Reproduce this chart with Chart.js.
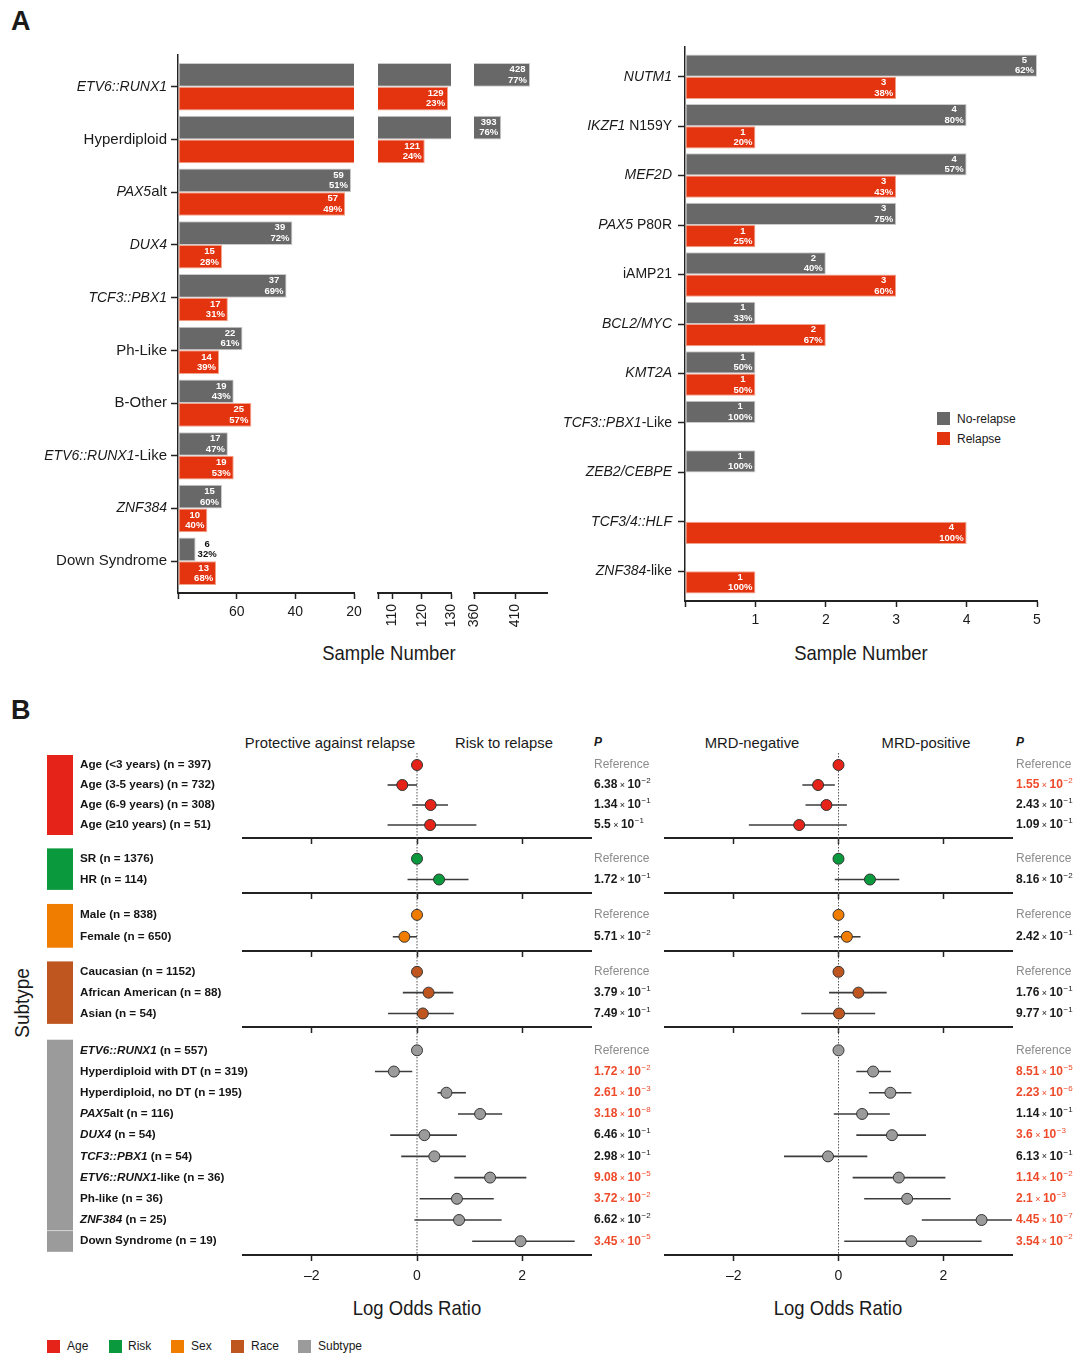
<!DOCTYPE html>
<html><head><meta charset="utf-8">
<script src="https://cdn.jsdelivr.net/npm/chart.js@4.4.1/dist/chart.umd.min.js"></script>
<style>
html,body{margin:0;padding:0;background:#fff;}
#page{position:relative;width:1080px;height:1357px;overflow:hidden;font-family:'Liberation Sans',Arial,sans-serif;color:#1a1a1a;}
.abs{position:absolute;white-space:nowrap;}
.c{transform:translate(-50%,-50%);}
.l{transform:translate(0,-50%);}
.ttl{font-size:21px;transform:translate(-50%,-50%) scaleX(0.88);}
.hd{font-size:14.8px;}
.sq{position:absolute;width:13px;height:13px;}
</style></head>
<body><div id="page">
<div class="abs" style="left:11px;top:6px;font:bold 27px 'Liberation Sans',Arial,sans-serif;">A</div>
<div class="abs" style="left:11px;top:695px;font:bold 27px 'Liberation Sans',Arial,sans-serif;">B</div>
<div class="abs ttl" style="left:389px;top:653px;">Sample Number</div>
<div class="abs ttl" style="left:861px;top:653px;">Sample Number</div>
<div class="sq" style="left:937px;top:412px;background:#686868;"></div>
<div class="abs l" style="left:957px;top:419px;font-size:12px;">No-relapse</div>
<div class="sq" style="left:937px;top:432px;background:#e3330f;"></div>
<div class="abs l" style="left:957px;top:439px;font-size:12px;">Relapse</div>

<div class="abs c hd" style="left:330px;top:743px;">Protective against relapse</div>
<div class="abs c hd" style="left:504px;top:743px;">Risk to relapse</div>
<div class="abs l" style="left:594px;top:742px;font:italic bold 12px 'Liberation Sans',Arial,sans-serif;">P</div>
<div class="abs c hd" style="left:752px;top:743px;">MRD-negative</div>
<div class="abs c hd" style="left:926px;top:743px;">MRD-positive</div>
<div class="abs l" style="left:1016px;top:742px;font:italic bold 12px 'Liberation Sans',Arial,sans-serif;">P</div>
<div class="abs" style="left:22px;top:1003px;font-size:21px;transform:translate(-50%,-50%) rotate(-90deg) scaleX(0.9);">Subtype</div>
<div class="abs ttl" style="left:417px;top:1308px;">Log Odds Ratio</div>
<div class="abs ttl" style="left:838px;top:1308px;">Log Odds Ratio</div>

<div class="sq" style="left:47px;top:1340px;background:#e52318;"></div>
<div class="abs l" style="left:67px;top:1346px;font-size:12px;">Age</div>
<div class="sq" style="left:109px;top:1340px;background:#0a9a3d;"></div>
<div class="abs l" style="left:128px;top:1346px;font-size:12px;">Risk</div>
<div class="sq" style="left:171px;top:1340px;background:#f07d00;"></div>
<div class="abs l" style="left:191px;top:1346px;font-size:12px;">Sex</div>
<div class="sq" style="left:231px;top:1340px;background:#bf5620;"></div>
<div class="abs l" style="left:251px;top:1346px;font-size:12px;">Race</div>
<div class="sq" style="left:298px;top:1340px;background:#9b9b9b;"></div>
<div class="abs l" style="left:318px;top:1346px;font-size:12px;">Subtype</div>
</div>
<script>
// ---------------- Panel A (left): main subtypes ----------------
const subtypesA = ['<i>ETV6::RUNX1</i>', 'Hyperdiploid', '<i>PAX5</i>alt', '<i>DUX4</i>', '<i>TCF3::PBX1</i>', 'Ph-Like', 'B-Other', '<i>ETV6::RUNX1</i>-Like', '<i>ZNF384</i>', 'Down Syndrome'];
const noRelapseA = [428, 393, 59, 39, 37, 22, 19, 17, 15, 6];
const relapseA = [129, 121, 57, 15, 17, 14, 25, 19, 10, 13];
const noRelapsePctA = ['77%', '76%', '51%', '72%', '69%', '61%', '43%', '47%', '60%', '32%'];
const relapsePctA = ['23%', '24%', '49%', '28%', '31%', '39%', '57%', '53%', '40%', '68%'];
// broken axis segments
const seg1Ticks = [0, 20, 40, 60];
const seg1TickLabels = ['', '60', '40', '20'];
const seg2Ticks = [105, 110, 120, 130];
const seg2TickLabels = ['', '110', '120', '130'];
const seg3Ticks = [360, 410];
const seg3TickLabels = ['360', '410'];

// ---------------- Panel A (right): rare subtypes ----------------
const subtypesB = ['<i>NUTM1</i>', '<i>IKZF1</i> N159Y', '<i>MEF2D</i>', '<i>PAX5</i> P80R', 'iAMP21', '<i>BCL2/MYC</i>', '<i>KMT2A</i>', '<i>TCF3::PBX1</i>-Like', '<i>ZEB2/CEBPE</i>', '<i>TCF3/4::HLF</i>', '<i>ZNF384</i>-like'];
const noRelapseB = [5, 4, 4, 3, 2, 1, 1, 1, 1, null, null];
const relapseB = [3, 1, 3, 1, 3, 2, 1, null, null, 4, 1];
const noRelapsePctB = ['62%', '80%', '57%', '75%', '40%', '33%', '50%', '100%', '100%', null, null];
const relapsePctB = ['38%', '20%', '43%', '25%', '60%', '67%', '50%', null, null, '100%', '100%'];
const rightTicks = [0, 1, 2, 3, 4, 5];
const rightTickLabels = ['', '1', '2', '3', '4', '5'];

// ---------------- Panel B: forest plots ----------------
const forestGroups = ['Age', 'Risk', 'Sex', 'Race', 'Subtype'];
const rowGroup = ['Age','Age','Age','Age','Risk','Risk','Sex','Sex','Race','Race','Race',
  'Subtype','Subtype','Subtype','Subtype','Subtype','Subtype','Subtype','Subtype','Subtype','Subtype'];
const rowLabels = ['Age (<3 years) (n = 397)', 'Age (3-5 years) (n = 732)', 'Age (6-9 years) (n = 308)', 'Age (\u226510 years) (n = 51)',
  'SR (n = 1376)', 'HR (n = 114)', 'Male (n = 838)', 'Female (n = 650)',
  'Caucasian (n = 1152)', 'African American (n = 88)', 'Asian (n = 54)',
  '<i>ETV6::RUNX1</i> (n = 557)', 'Hyperdiploid with DT (n = 319)', 'Hyperdiploid, no DT (n = 195)', '<i>PAX5</i>alt (n = 116)',
  '<i>DUX4</i> (n = 54)', '<i>TCF3::PBX1</i> (n = 54)', '<i>ETV6::RUNX1</i>-like (n = 36)', 'Ph-like (n = 36)', '<i>ZNF384</i> (n = 25)', 'Down Syndrome (n = 19)'];
const relapseLogOR = [0, -0.28, 0.26, 0.25, 0, 0.42, 0, -0.24, 0, 0.22, 0.11,
  0, -0.44, 0.56, 1.20, 0.14, 0.33, 1.39, 0.76, 0.80, 1.97];
const relapseLow = [null, -0.56, -0.09, -0.56, null, -0.18, null, -0.46, null, -0.27, -0.55,
  null, -0.80, 0.39, 0.78, -0.51, -0.30, 0.71, 0.05, -0.05, 1.05];
const relapseHigh = [null, 0.0, 0.59, 1.13, null, 0.98, null, 0.0, null, 0.69, 0.70,
  null, -0.09, 0.93, 1.62, 0.76, 0.93, 2.08, 1.46, 1.61, 3.0];
const relapseP = ['Reference', '6.38e-2', '1.34e-1', '5.5e-1', 'Reference', '1.72e-1', 'Reference', '5.71e-2', 'Reference', '3.79e-1', '7.49e-1',
  'Reference', '1.72e-2', '2.61e-3', '3.18e-8', '6.46e-1', '2.98e-1', '9.08e-5', '3.72e-2', '6.62e-2', '3.45e-5'];
const mrdLogOR = [0, -0.39, -0.23, -0.75, 0, 0.60, 0, 0.16, 0, 0.38, 0.01,
  0, 0.66, 0.99, 0.45, 1.02, -0.20, 1.15, 1.31, 2.73, 1.39];
const mrdLow = [null, -0.69, -0.63, -1.71, null, -0.07, null, -0.09, null, -0.18, -0.71,
  null, 0.34, 0.58, -0.09, 0.34, -1.04, 0.27, 0.49, 1.59, 0.11];
const mrdHigh = [null, -0.07, 0.16, 0.16, null, 1.16, null, 0.42, null, 0.92, 0.70,
  null, 1.0, 1.39, 0.98, 1.67, 0.55, 2.04, 2.14, 3.4, 2.73];
const mrdP = ['Reference', '1.55e-2', '2.43e-1', '1.09e-1', 'Reference', '8.16e-2', 'Reference', '2.42e-1', 'Reference', '1.76e-1', '9.77e-1',
  'Reference', '8.51e-5', '2.23e-6', '1.14e-1', '3.6e-3', '6.13e-1', '1.14e-2', '2.1e-3', '4.45e-7', '3.54e-2'];
const forestTicks = [-2, 0, 2];
const forestTickLabels = ['\u20132', '0', '2'];

// ---------------- styles / layout ----------------
const SANS = "'Liberation Sans',Arial,sans-serif";
const GRAY = '#686868', RED = '#e3330f';
const groupColors = ['#e52318', '#0a9a3d', '#f07d00', '#bf5620', '#9b9b9b'];
Chart.defaults.font.family = SANS;

function makeCanvas(left, top, w, h) {
  const c = document.createElement('canvas');
  c.width = w; c.height = h;
  c.style.cssText = `position:absolute;left:${left}px;top:${top}px;width:${w}px;height:${h}px;`;
  document.getElementById('page').appendChild(c);
  return c;
}

function parseRich(markup) {
  const parts = []; const re = /<i>(.*?)<\/i>/g; let last = 0, m;
  while ((m = re.exec(markup))) {
    if (m.index > last) parts.push({ t: markup.slice(last, m.index), i: false });
    parts.push({ t: m[1], i: true }); last = re.lastIndex;
  }
  if (last < markup.length) parts.push({ t: markup.slice(last), i: false });
  return parts;
}
// sizes: [regular size, italic size]
function drawRich(ctx, markup, x, y, align, sizes, weight, color) {
  const parts = parseRich(markup);
  const fontOf = it => `${it ? 'italic ' : ''}${weight} ${it ? sizes[1] : sizes[0]}px ${SANS}`;
  let total = 0;
  parts.forEach(p => { ctx.font = fontOf(p.i); p.w = ctx.measureText(p.t).width; total += p.w; });
  let cx = align === 'right' ? x - total : (align === 'center' ? x - total / 2 : x);
  ctx.fillStyle = color; ctx.textBaseline = 'middle'; ctx.textAlign = 'left';
  parts.forEach(p => { ctx.font = fontOf(p.i); ctx.fillText(p.t, cx, y); cx += p.w; });
}

function barLabelPlugin(pcts) {
  return {
    id: 'barLabels',
    afterDatasetsDraw(chart) {
      const { ctx, chartArea: a } = chart; const xs = chart.scales.x;
      ctx.save();
      chart.data.datasets.forEach((ds, di) => {
        const meta = chart.getDatasetMeta(di);
        meta.data.forEach((el, i) => {
          const v = ds.data[i].x;
          if (v == null || v < xs.min || v > xs.max) return;
          const lines = [String(v), pcts[di][i]];
          ctx.font = `bold 9.5px ${SANS}`;
          const w = Math.max(...lines.map(t => ctx.measureText(t).width));
          const vis = el.x - Math.max(el.base, a.left);
          let cx, col;
          if (vis >= w + 6) { cx = el.x - 3 - w / 2; col = '#ffffff'; }
          else { cx = el.x + 2 + w / 2; col = '#111111'; }
          ctx.fillStyle = col; ctx.textAlign = 'center'; ctx.textBaseline = 'middle';
          ctx.fillText(lines[0], cx, el.y - 5.3);
          ctx.fillText(lines[1], cx, el.y + 5.3);
        });
      });
      ctx.restore();
    }
  };
}
function catLabelPlugin(cats, offset, sizes) {
  return {
    id: 'catLabels',
    afterDraw(chart) {
      const ys = chart.scales.y; const a = chart.chartArea; const ctx = chart.ctx;
      ctx.save();
      cats.forEach((c, i) => drawRich(ctx, c, a.left - offset, ys.getPixelForValue(i), 'right', sizes, 'normal', '#1a1a1a'));
      ctx.restore();
    }
  };
}

function buildBarChart(cfg) {
  const n = cfg.cats.length;
  const mkData = vals => vals.map((v, i) => ({ x: v, y: i }));
  const plugins = [barLabelPlugin([cfg.noPct, cfg.rePct])];
  if (cfg.showY) plugins.push(catLabelPlugin(cfg.cats, cfg.labelOffset, cfg.labelSizes));
  return new Chart(cfg.canvas, {
    type: 'bar',
    data: {
      datasets: [
        { label: 'No-relapse', data: mkData(cfg.noVals), backgroundColor: GRAY, borderColor: '#cbcbcb', borderWidth: 1, borderSkipped: false, categoryPercentage: 0.9, barPercentage: 1, clip: 0 },
        { label: 'Relapse', data: mkData(cfg.reVals), backgroundColor: RED, borderColor: '#f2a48c', borderWidth: 1, borderSkipped: false, categoryPercentage: 0.9, barPercentage: 1, clip: 0 }
      ]
    },
    options: {
      indexAxis: 'y', responsive: false, animation: false, devicePixelRatio: 1,
      layout: { autoPadding: false, padding: { left: cfg.padL, right: cfg.padR, top: cfg.padTop, bottom: 0 } },
      plugins: { legend: { display: false }, tooltip: { enabled: false } },
      scales: {
        x: {
          type: 'linear', position: 'bottom', min: cfg.xMin, max: cfg.xMax,
          afterBuildTicks: s => { s.ticks = cfg.xTicks.map(v => ({ value: v })); },
          ticks: { callback: (v, i) => cfg.xTickLabels[i], autoSkip: false, minRotation: cfg.rotate, maxRotation: cfg.rotate, padding: 5, color: '#1a1a1a', font: { size: 14, family: SANS } },
          grid: { drawOnChartArea: false, drawTicks: true, tickLength: 6, tickColor: '#222', tickWidth: 1.5 },
          border: { display: true, color: '#222', width: 2 },
          afterFit: s => { s.height = cfg.axisH; s.paddingLeft = 0; s.paddingRight = 0; }
        },
        y: {
          type: 'linear', display: cfg.showY, reverse: true, offset: false, min: -0.6, max: n - 1 + 0.6,
          afterBuildTicks: s => { s.ticks = cfg.cats.map((c, i) => ({ value: i })); },
          ticks: { display: false },
          grid: { offset: false, drawOnChartArea: false, drawTicks: true, tickLength: 7, tickColor: '#222', tickWidth: 1.5 },
          border: { display: true, color: '#222', width: 1.5 },
          afterFit: s => { s.width = cfg.showY ? 7 : 0; s.paddingTop = 0; s.paddingBottom = 0; }
        }
      }
    },
    plugins
  });
}

// Panel A left: three pieces of the broken axis
buildBarChart({ canvas: makeCanvas(0, 0, 370, 680), cats: subtypesA, noVals: noRelapseA, reVals: relapseA, noPct: noRelapsePctA, rePct: relapsePctA,
  xMin: 0, xMax: 60, xTicks: seg1Ticks, xTickLabels: seg1TickLabels, rotate: 0, showY: true, padL: 171, padR: 16, padTop: 55, axisH: 87, labelOffset: 11, labelSizes: [15, 14] });
buildBarChart({ canvas: makeCanvas(360, 0, 100, 680), cats: subtypesA, noVals: noRelapseA, reVals: relapseA, noPct: noRelapsePctA, rePct: relapsePctA,
  xMin: 105, xMax: 130, xTicks: seg2Ticks, xTickLabels: seg2TickLabels, rotate: 90, showY: false, padL: 18, padR: 9, padTop: 55, axisH: 87 });
buildBarChart({ canvas: makeCanvas(462, 0, 100, 680), cats: subtypesA, noVals: noRelapseA, reVals: relapseA, noPct: noRelapsePctA, rePct: relapsePctA,
  xMin: 360, xMax: 448.6, xTicks: seg3Ticks, xTickLabels: seg3TickLabels, rotate: 90, showY: false, padL: 12, padR: 15, padTop: 55, axisH: 87 });
// Panel A right
buildBarChart({ canvas: makeCanvas(540, 0, 540, 680), cats: subtypesB, noVals: noRelapseB, reVals: relapseB, noPct: noRelapsePctB, rePct: relapsePctB,
  xMin: 0, xMax: 5, xTicks: rightTicks, xTickLabels: rightTickLabels, rotate: 0, showY: true, padL: 138, padR: 43, padTop: 47, axisH: 79, labelOffset: 13, labelSizes: [14, 14] });

// ---------------- forest plots ----------------
function drawP(ctx, s, x, y) {
  ctx.textAlign = 'left'; ctx.textBaseline = 'middle';
  if (s === 'Reference') { ctx.font = `12px ${SANS}`; ctx.fillStyle = '#8c8c8c'; ctx.fillText(s, x, y); return; }
  const [m, e] = s.split('e');
  ctx.fillStyle = parseFloat(s) < 0.05 ? '#ee4a2a' : '#1a1a1a';
  ctx.font = `bold 12px ${SANS}`; ctx.fillText(m, x, y); x += ctx.measureText(m).width;
  ctx.font = `9px ${SANS}`; const t = ' \u00d7 '; ctx.fillText(t, x, y + 0.5); x += ctx.measureText(t).width;
  ctx.font = `bold 12px ${SANS}`; ctx.fillText('10', x, y); x += ctx.measureText('10').width;
  ctx.font = `8px ${SANS}`; ctx.fillText('\u2212' + e.replace('-', ''), x + 0.5, y - 4);
}

const groupTop = [745, 838, 893, 951, 1027];
const groupBottom = [838, 893, 951, 1027, 1255];
const groupLeadRows = [1, 1, 1, 1, 1.1];

function forestChart(side, gi, est, lo, hi, pv) {
  const isLast = gi === forestGroups.length - 1;
  const axisH = isLast ? 40 : 8;
  const left = side === 'left' ? 0 : 600, width = side === 'left' ? 665 : 480;
  const padL = side === 'left' ? 243 : 65, padR = side === 'left' ? 74 : 68;
  const canvas = makeCanvas(left, groupTop[gi], width, groupBottom[gi] - groupTop[gi] + axisH);
  const idx = rowGroup.map((g, i) => g === forestGroups[gi] ? i : -1).filter(i => i >= 0);
  const n = idx.length; const col = groupColors[gi];
  const deco = {
    id: 'forestDeco',
    beforeDatasetsDraw(chart) {
      const { ctx, chartArea: a } = chart; const xs = chart.scales.x, ys = chart.scales.y;
      ctx.save();
      const x0 = xs.getPixelForValue(0);
      ctx.strokeStyle = '#555'; ctx.lineWidth = 1; ctx.setLineDash([1.5, 1.5]);
      ctx.beginPath(); ctx.moveTo(x0, gi === 0 ? ys.getPixelForValue(-0.6) : a.top); ctx.lineTo(x0, a.bottom); ctx.stroke();
      ctx.setLineDash([]);
      ctx.strokeStyle = '#3c3c3c'; ctx.lineWidth = 1.6;
      idx.forEach((r, k) => {
        if (lo[r] == null) return;
        const y = ys.getPixelForValue(k);
        const x1 = Math.max(a.left, xs.getPixelForValue(lo[r]));
        const x2 = Math.min(a.right, xs.getPixelForValue(hi[r]));
        ctx.beginPath(); ctx.moveTo(x1, y); ctx.lineTo(x2, y); ctx.stroke();
      });
      if (side === 'left') {
        const yT = ys.getPixelForValue(-0.5), yB = ys.getPixelForValue(n - 0.5);
        ctx.fillStyle = col; ctx.fillRect(a.left - 196, yT, 26, yB - yT);
        if (isLast) {
          const yl = ys.getPixelForValue(n - 1.5);
          ctx.strokeStyle = '#d6d6d6'; ctx.lineWidth = 1;
          ctx.beginPath(); ctx.moveTo(a.left - 196, yl); ctx.lineTo(a.left - 170, yl); ctx.stroke();
        }
        idx.forEach((r, k) => drawRich(ctx, rowLabels[r], a.left - 163, ys.getPixelForValue(k), 'left', [11.7, 11.7], 'bold', '#151515'));
      }
      idx.forEach((r, k) => drawP(ctx, pv[r], a.right + (side === 'left' ? 3 : 4), ys.getPixelForValue(k)));
      ctx.restore();
    }
  };
  return new Chart(canvas, {
    type: 'scatter',
    data: { datasets: [{ data: idx.map((r, k) => ({ x: est[r], y: k })), pointRadius: 5.5, backgroundColor: col, borderColor: '#333', borderWidth: 1 }] },
    options: {
      responsive: false, animation: false, devicePixelRatio: 1,
      layout: { autoPadding: false, padding: { left: padL, right: padR, top: 0, bottom: 0 } },
      plugins: { legend: { display: false }, tooltip: { enabled: false } },
      scales: {
        x: {
          type: 'linear', min: -3.31, max: 3.31,
          afterBuildTicks: s => { s.ticks = forestTicks.map(v => ({ value: v })); },
          ticks: { display: isLast, callback: (v, i) => forestTickLabels[i], autoSkip: false, maxRotation: 0, padding: 7, color: '#1a1a1a', font: { size: 14, family: SANS } },
          grid: { drawOnChartArea: false, drawTicks: true, tickLength: 6, tickColor: '#222', tickWidth: 1.5 },
          border: { display: true, color: '#222', width: 2 },
          afterFit: s => { s.height = axisH; s.paddingLeft = 0; s.paddingRight = 0; }
        },
        y: { type: 'linear', display: false, reverse: true, min: -groupLeadRows[gi], max: n - 0.35 }
      }
    },
    plugins: [deco]
  });
}

forestGroups.forEach((g, gi) => {
  forestChart('left', gi, relapseLogOR, relapseLow, relapseHigh, relapseP);
  forestChart('right', gi, mrdLogOR, mrdLow, mrdHigh, mrdP);
});
</script>
</body></html>
